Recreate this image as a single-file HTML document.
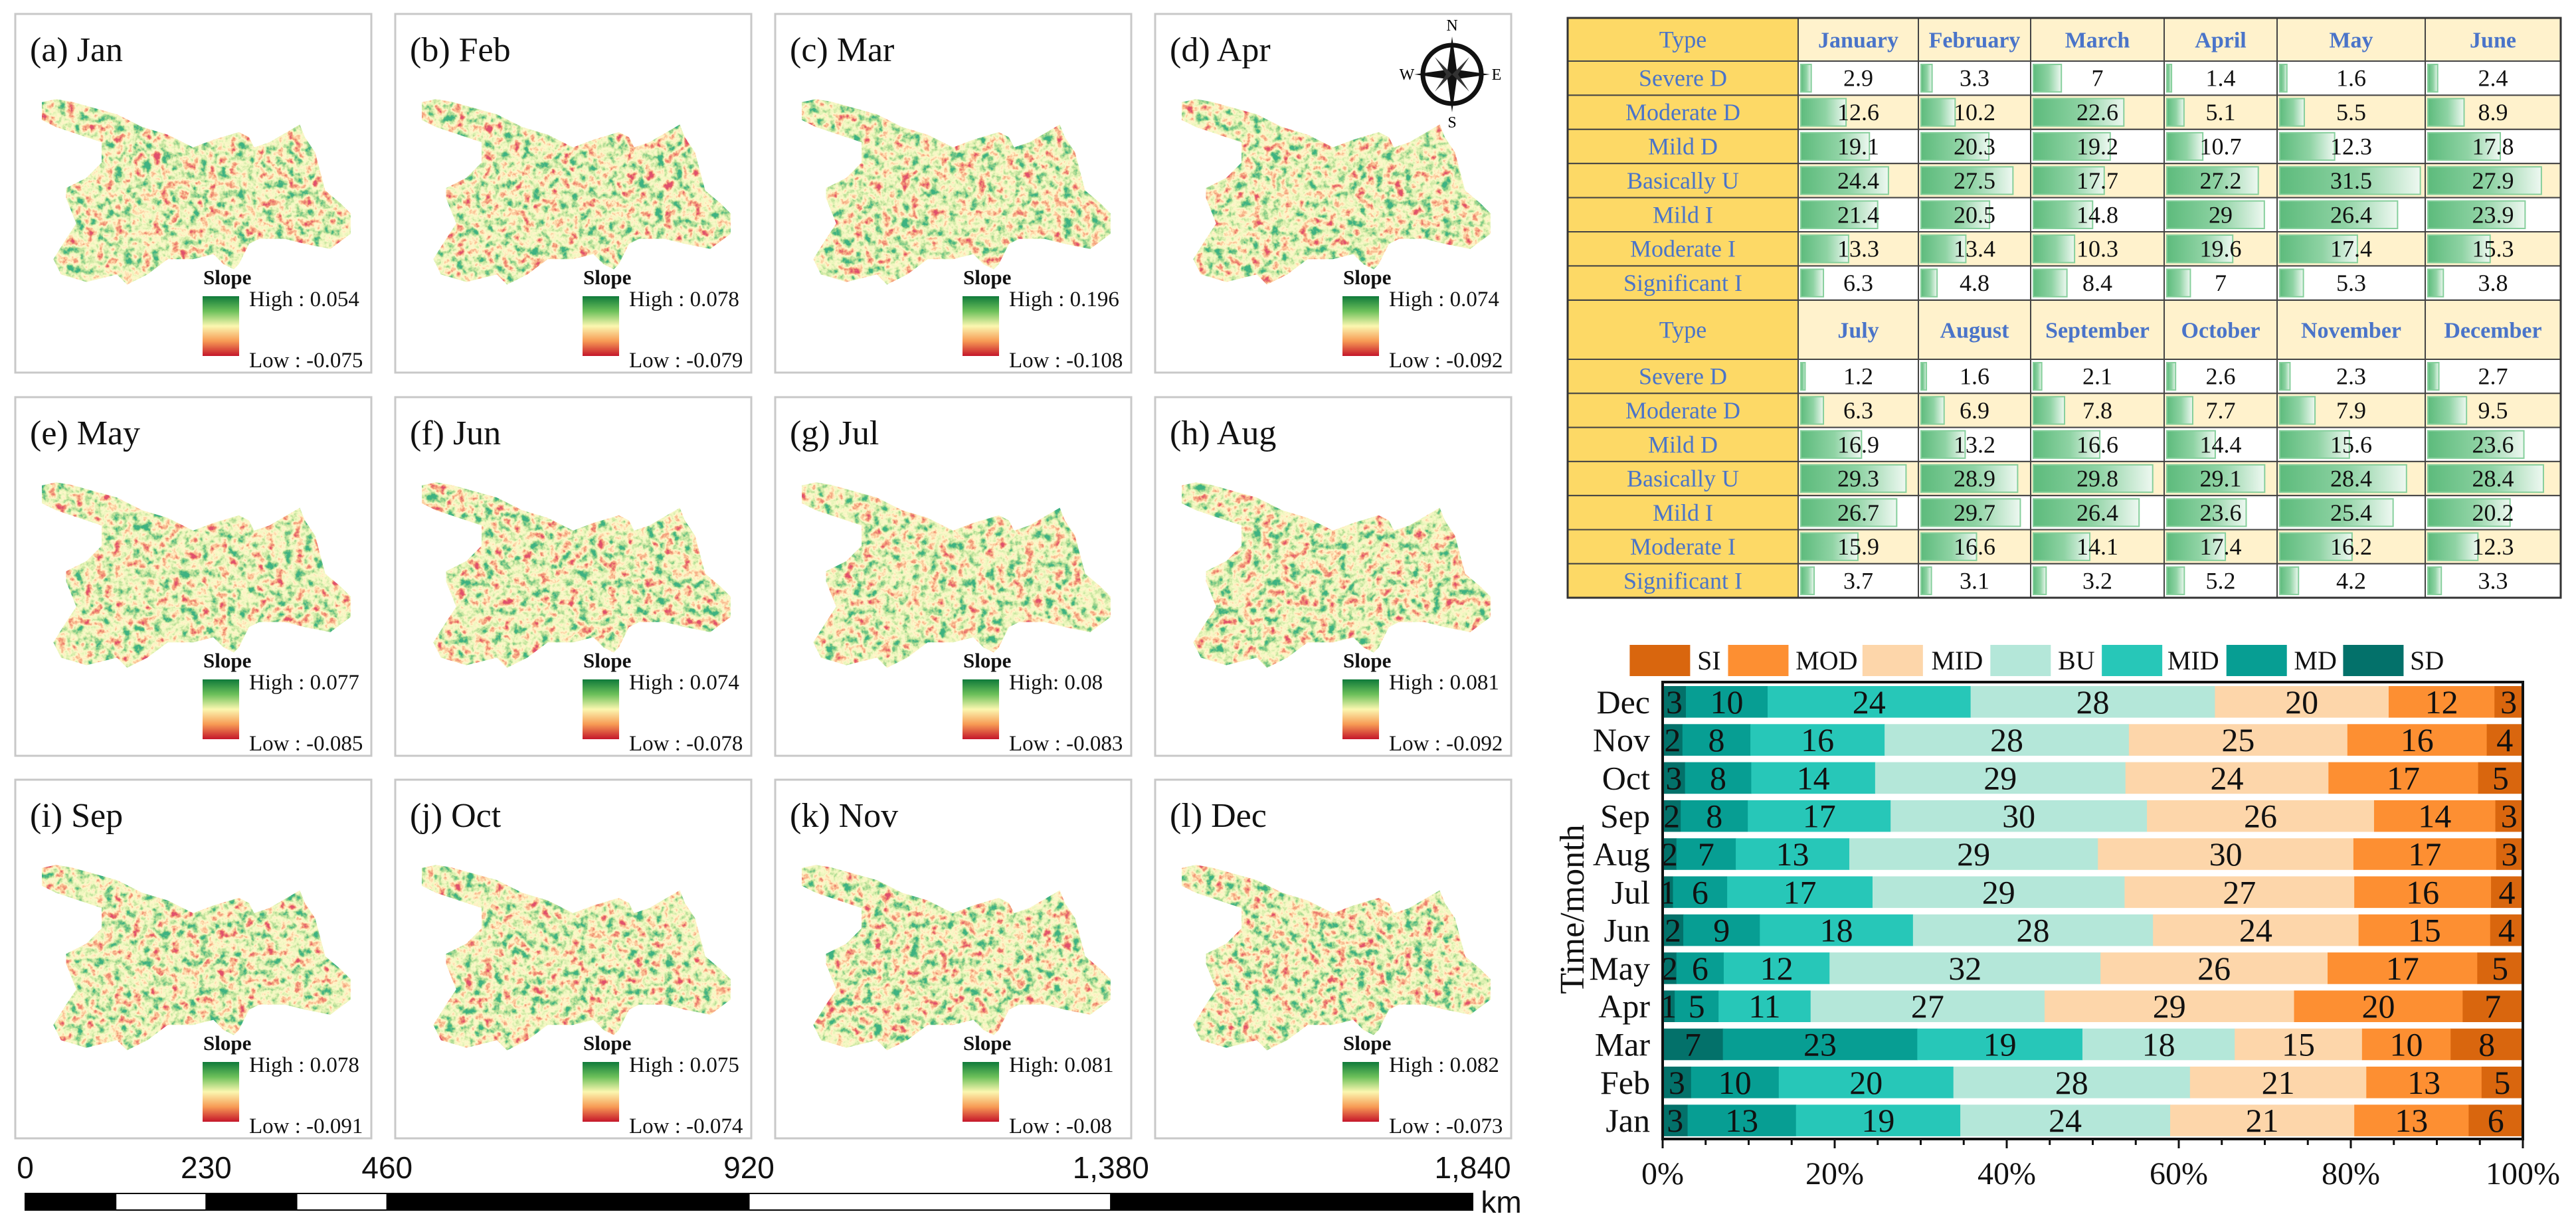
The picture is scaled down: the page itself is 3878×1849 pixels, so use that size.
<!DOCTYPE html>
<html><head><meta charset="utf-8"><style>
html,body{margin:0;padding:0;background:#fff;}
svg{display:block;font-family:"Liberation Serif",serif;}
</style></head><body>
<svg id="fig" xmlns="http://www.w3.org/2000/svg" width="3878" height="1849" viewBox="0 0 3878 1849">
<defs>
<linearGradient id="cbar" x1="0" y1="0" x2="0" y2="1">
<stop offset="0" stop-color="#0f7a3a"/><stop offset="0.25" stop-color="#6cc05a"/><stop offset="0.5" stop-color="#fbf7b0"/><stop offset="0.75" stop-color="#f79b55"/><stop offset="1" stop-color="#c4162a"/>
</linearGradient>
<linearGradient id="tbar" x1="0" y1="0" x2="1" y2="0">
<stop offset="0" stop-color="#5dbb7c"/><stop offset="0.55" stop-color="#8fd3a4"/><stop offset="1" stop-color="#eef8f1"/>
</linearGradient>
</defs>
</svg>
<script>
// ---------- data ----------
const months = ["Jan","Feb","Mar","Apr","May","Jun","Jul","Aug","Sep","Oct","Nov","Dec"];
const fullMonths = ["January","February","March","April","May","June","July","August","September","October","November","December"];
const types = ["Severe D","Moderate D","Mild D","Basically U","Mild I","Moderate I","Significant I"];
const severeD   = [2.9,3.3,7,1.4,1.6,2.4,1.2,1.6,2.1,2.6,2.3,2.7];
const moderateD = [12.6,10.2,22.6,5.1,5.5,8.9,6.3,6.9,7.8,7.7,7.9,9.5];
const mildD     = [19.1,20.3,19.2,10.7,12.3,17.8,16.9,13.2,16.6,14.4,15.6,23.6];
const basicU    = [24.4,27.5,17.7,27.2,31.5,27.9,29.3,28.9,29.8,29.1,28.4,28.4];
const mildI     = [21.4,20.5,14.8,29,26.4,23.9,26.7,29.7,26.4,23.6,25.4,20.2];
const moderateI = [13.3,13.4,10.3,19.6,17.4,15.3,15.9,16.6,14.1,17.4,16.2,12.3];
const signifI   = [6.3,4.8,8.4,7,5.3,3.8,3.7,3.1,3.2,5.2,4.2,3.3];
const panelLetters = ["a","b","c","d","e","f","g","h","i","j","k","l"];
const highLabels = ["High : 0.054","High : 0.078","High : 0.196","High : 0.074","High : 0.077","High : 0.074","High: 0.08","High : 0.081","High : 0.078","High : 0.075","High: 0.081","High : 0.082"];
const lowLabels = ["Low : -0.075","Low : -0.079","Low : -0.108","Low : -0.092","Low : -0.085","Low : -0.078","Low : -0.083","Low : -0.092","Low : -0.091","Low : -0.074","Low : -0.08","Low : -0.073"];
const legendNames = ["SI","MOD","MID","BU","MID","MD","SD"];
const xTicks = [0,20,40,60,80,100];
const scaleTicks = ["0","230","460","920","1,380","1,840"];
const scaleKm = [0,230,460,920,1380,1840];

const NS = "http://www.w3.org/2000/svg";
const svg = document.getElementById('fig');
function mk(tag, attrs, parent){
  const el = document.createElementNS(NS, tag);
  for (const k in attrs) el.setAttribute(k, attrs[k]);
  (parent||svg).appendChild(el);
  return el;
}
function txt(s, attrs, parent){ const t = mk('text', attrs, parent); t.textContent = s; return t; }
const defs = svg.querySelector('defs');

// ---------- map panels ----------
const shape = [[65,205],[110,195],[140,200],[230,225],[280,250],[330,265],[380,290],[420,275],[470,260],[490,270],[500,290],[530,280],[590,245],[600,270],[620,300],[640,375],[670,400],[690,420],[690,460],[650,490],[600,480],[560,470],[510,470],[490,480],[470,520],[460,530],[440,520],[420,500],[380,510],[330,510],[290,540],[250,560],[230,540],[170,555],[120,540],[105,510],[130,470],[150,440],[130,390],[130,370],[170,350],[200,320],[200,280],[170,270],[110,250],[70,230]];
const colX = [23,595,1167,1739], rowY = [21,598,1174];
const PW = 536, PH = 540;
const R = "0.75 0.88 0.98 1 0.86 0.6 0.25 0.05";
const G = "0.08 0.3 0.62 0.93 0.93 0.8 0.62 0.45";
const B = "0.15 0.18 0.35 0.6 0.52 0.36 0.25 0.22";
for (let i=0;i<12;i++){
  const px = colX[i%4], py = rowY[Math.floor(i/4)];
  const f = mk('filter',{id:'tex'+i,x:0,y:0,width:1,height:1},defs);
  mk('feTurbulence',{type:'fractalNoise',baseFrequency:'0.07',numOctaves:'4',seed:String(i*7+3),result:'n'},f);
  mk('feColorMatrix',{type:'matrix',values:'1.8 0 0 0 -0.36  1.8 0 0 0 -0.36  1.8 0 0 0 -0.36  0 0 0 0 1'},f);
  mk('feComponentTransfer',{},f);
  const ct = f.lastChild;
  mk('feFuncR',{type:'table',tableValues:R},ct);
  mk('feFuncG',{type:'table',tableValues:G},ct);
  mk('feFuncB',{type:'table',tableValues:B},ct);
  const cp = mk('clipPath',{id:'clip'+i},defs);
  mk('polygon',{points:shape.map(p=>((p[0]/1.307-23+px).toFixed(1)+','+(p[1]/1.307-21+py).toFixed(1))).join(' ')},cp);

  const g = mk('g',{});
  
  
  mk('rect',{x:px,y:py,width:PW,height:PH,fill:'#fff',stroke:'#c8c8c8','stroke-width':3},g);
  const t = txt('('+panelLetters[i]+') '+months[i],{x:px+22,y:py+71,'font-size':52,fill:'#111'},g);
  
  
  const m = mk('rect',{x:px+40,y:py+120,width:500,height:330,filter:'url(#tex'+i+')','clip-path':'url(#clip'+i+')'},g);
  
  
  const s = txt('Slope',{x:px+283,y:py+407,'font-size':31,'font-weight':'bold',fill:'#111'},g);
  
  
  const cb = mk('rect',{x:px+282,y:py+425,width:55,height:90,fill:'url(#cbar)'},g);
  
  
  const hi = txt(highLabels[i],{x:px+352,y:py+440,'font-size':33,fill:'#111'},g);
  
  
  const lo = txt(lowLabels[i],{x:px+352,y:py+532,'font-size':33,fill:'#111'},g);
  
  
}
// compass
const cg = mk('g',{});


mk('circle',{cx:2186,cy:112,r:44,fill:'none',stroke:'#111','stroke-width':7},cg);
mk('polygon',{points:'2186,55 2193,105 2243,112 2193,119 2186,169 2179,119 2129,112 2179,105',fill:'#111'},cg);
mk('polygon',{points:'2186,112 2212,86 2195,112 2212,138 2186,112 2160,138 2177,112 2160,86',fill:'#333'},cg);
txt('N',{x:2186,y:46,'font-size':24,'text-anchor':'middle'},cg);
txt('S',{x:2186,y:192,'font-size':24,'text-anchor':'middle'},cg);
txt('W',{x:2118,y:120,'font-size':24,'text-anchor':'middle'},cg);
txt('E',{x:2253,y:120,'font-size':24,'text-anchor':'middle'},cg);

// ---------- scale bar ----------
const sb = mk('g',{});


const kmX = v => 38 + v/1840*(2217-38);
const segs = [0,115,230,345,460,920,1380,1840];
for (let k=0;k<segs.length-1;k++){
  mk('rect',{x:kmX(segs[k]),y:1797,width:kmX(segs[k+1])-kmX(segs[k]),height:25,fill:(k%2===0)?'#000':'#fff',stroke:'#000','stroke-width':2},sb);
}
for (let k=0;k<scaleKm.length;k++){
  const l = txt(scaleTicks[k],{x:kmX(scaleKm[k]),y:1774,'font-size':46,'font-family':'Liberation Sans, sans-serif','text-anchor':'middle',fill:'#111'},sb);
  
  
}
txt('km',{x:2260,y:1826,'font-size':46,'font-family':'Liberation Sans, sans-serif','text-anchor':'middle',fill:'#111'},sb);

// ---------- table ----------
const tg = mk('g',{});


const cx = [2360,2707,2888,3057,3258,3428,3651,3855];
const series = [severeD,moderateD,mildD,basicU,mildI,moderateI,signifI];
function tableHalf(startMonth, headTop, headBot, rowTop, rowH){
  mk('rect',{x:cx[0],y:headTop,width:cx[1]-cx[0],height:headBot-headTop,fill:'#fdd966',stroke:'#444','stroke-width':2},tg);
  txt('Type',{x:(cx[0]+cx[1])/2,y:(headTop+headBot)/2+12,'font-size':36,'text-anchor':'middle',fill:'#4a74c9'},tg);
  for (let c=0;c<6;c++){
    mk('rect',{x:cx[c+1],y:headTop,width:cx[c+2]-cx[c+1],height:headBot-headTop,fill:'#fff2cc',stroke:'#444','stroke-width':2},tg);
    const h = txt(fullMonths[startMonth+c],{x:(cx[c+1]+cx[c+2])/2,y:(headTop+headBot)/2+12,'font-size':34,'font-weight':'bold','text-anchor':'middle',fill:'#4a74c9'},tg);
    
    
  }
  for (let r=0;r<7;r++){
    const y = rowTop + r*rowH;
    mk('rect',{x:cx[0],y:y,width:cx[1]-cx[0],height:rowH,fill:'#fdd966',stroke:'#444','stroke-width':2},tg);
    const tl = txt(types[r],{x:(cx[0]+cx[1])/2,y:y+rowH/2+12,'font-size':36,'text-anchor':'middle',fill:'#4a74c9'},tg);
    
    
    for (let c=0;c<6;c++){
      const v = series[r][startMonth+c];
      const w = cx[c+2]-cx[c+1];
      mk('rect',{x:cx[c+1],y:y,width:w,height:rowH,fill:(r%2===1)?'#fff2cc':'#fff',stroke:'#444','stroke-width':2},tg);
      const b = mk('rect',{x:cx[c+1]+4,y:y+5,width:Math.max(4,v/32*(w-8)),height:rowH-10,fill:'url(#tbar)',stroke:'#86cf9c','stroke-width':2},tg);
      
      
      const vt = txt(String(v),{x:cx[c+1]+w/2,y:y+rowH/2+12,'font-size':36,'text-anchor':'middle',fill:'#111'},tg);
      
      
    }
  }
}
tableHalf(0,27,92,92,51.4);
tableHalf(6,452,541,541,51.3);
mk('rect',{x:2360,y:27,width:1495,height:873,fill:'none',stroke:'#333','stroke-width':3},tg);

// ---------- stacked bar chart ----------
const colors = ["#03716a","#079e93","#27c7b8","#b4e7d9","#fdd6aa","#fd8f32","#d9660e"];
const ch = mk('g',{});


const X0 = 2503, X1 = 3798, Y0 = 1027, Y1 = 1715;
const xs = v => X0 + v/100*(X1-X0);
const pitch = 57.3, bh = 47.6;
for (let i=0;i<12;i++){
  const m = 11-i; // Dec at top
  const y = 1033 + i*pitch;
  const vals = series.map(s=>s[m]);
  const tot = vals.reduce((a,b)=>a+b,0);
  let acc = 0;
  for (let k=0;k<7;k++){
    const v = vals[k]/tot*100;
    const r = mk('rect',{x:xs(acc),y:y,width:xs(acc+v)-xs(acc)+0.5,height:bh,fill:colors[k]},ch);
    
    
    const lb = txt(String(Math.round(vals[k])),{x:xs(acc+v/2),y:y+bh/2+17,'font-size':50,'text-anchor':'middle',fill:'#111'},ch);
    
    
    acc += v;
  }
  const ml = txt(months[m],{x:2484,y:y+bh/2+17,'font-size':50,'text-anchor':'end',fill:'#111'},ch);
  
  
}
mk('rect',{x:X0,y:Y0,width:X1-X0,height:Y1-Y0,fill:'none',stroke:'#111','stroke-width':4},ch);
for (let p=0;p<=100;p+=5){
  mk('line',{x1:xs(p),y1:Y1,x2:xs(p),y2:Y1+(p%20===0?14:9),stroke:'#111','stroke-width':3},ch);
}
for (let k=0;k<xTicks.length;k++){
  const tl = txt(xTicks[k]+'%',{x:xs(xTicks[k]),y:1783,'font-size':48,'text-anchor':'middle',fill:'#111'},ch);
  
  
}
const yt = txt('Time/month',{x:0,y:0,'font-size':52,'text-anchor':'middle',fill:'#111',transform:'translate(2384,1369) rotate(-90)'},ch);


// legend
const legSw = [125,275,480,675,845,1035,1213];
const legTx = [228,378,585,778,945,1138,1315];
const legCol = ["#d9660e","#fd8f32","#fdd6aa","#b4e7d9","#27c7b8","#079e93","#03716a"];
for (let k=0;k<7;k++){
  const sw = mk('rect',{x:2330+legSw[k]/1.013,y:971,width:91,height:47,fill:legCol[k]},ch);
  
  
  const lt = txt(legendNames[k],{x:2330+legTx[k]/1.013,y:1008,'font-size':40,fill:'#111'},ch);
  
  
}
</script>
</body></html>
